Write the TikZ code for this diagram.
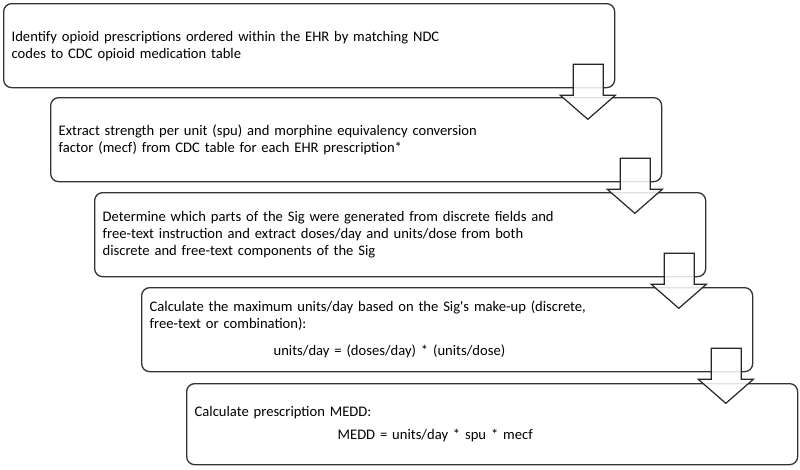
\documentclass[tikz,border=0pt]{standalone}
\usepackage{fontspec}
\setmainfont{Carlito}
\usetikzlibrary{positioning}

\begin{document}
\begin{tikzpicture}[x=1pt,y=-1pt,
	stepbox/.style={draw=black!80,line width=1.3pt,rounded corners=8pt,anchor=north west,
		minimum width=611pt,minimum height=84pt,text width=595pt,inner xsep=8pt,inner ysep=0pt,
		align=left,text=black,font=\fontsize{14.6}{17}\selectfont},
	downarrow/.style={draw=black!85,line width=1.2pt,fill=white,fill opacity=0.85}]
	\useasboundingbox (0,0) rectangle (800,469);

		\node[stepbox] (s1) at (3,3) {Identify opioid prescriptions ordered within the EHR by matching NDC\\codes to CDC opioid medication table};
		\node[stepbox] (s2) at (50,97) {Extract strength per unit (spu) and morphine equivalency conversion\\factor (mecf) from CDC table for each EHR prescription*};
		\node[stepbox] (s3) at (94,192) {Determine which parts of the Sig were generated from discrete fields and\\free-text instruction and extract doses/day and units/dose from both\\discrete and free-text components of the Sig};
		\node[stepbox] (s4) at (141,287) {Calculate the maximum units/day based on the Sig\textquotesingle s make-up (discrete,\\free-text or combination):\\[10pt]\hspace*{124pt}units/day = (doses/day) * (units/dose)};
		\node[stepbox,minimum height=81pt] (s5) at (186,383) {Calculate prescription MEDD:\\[6pt]\hspace*{143pt}MEDD = units/day * spu * mecf};

		\foreach \s in {s1,s2,s3,s4}
			{
			\draw[downarrow] (\s.south east) ++(-42,-24)--++(30,0)--++(0,31)--++(12,0)--++(-27.5,24)--++(-27.5,-24)--++(13,0)--cycle;
			}

	\end{tikzpicture}
\end{document}
